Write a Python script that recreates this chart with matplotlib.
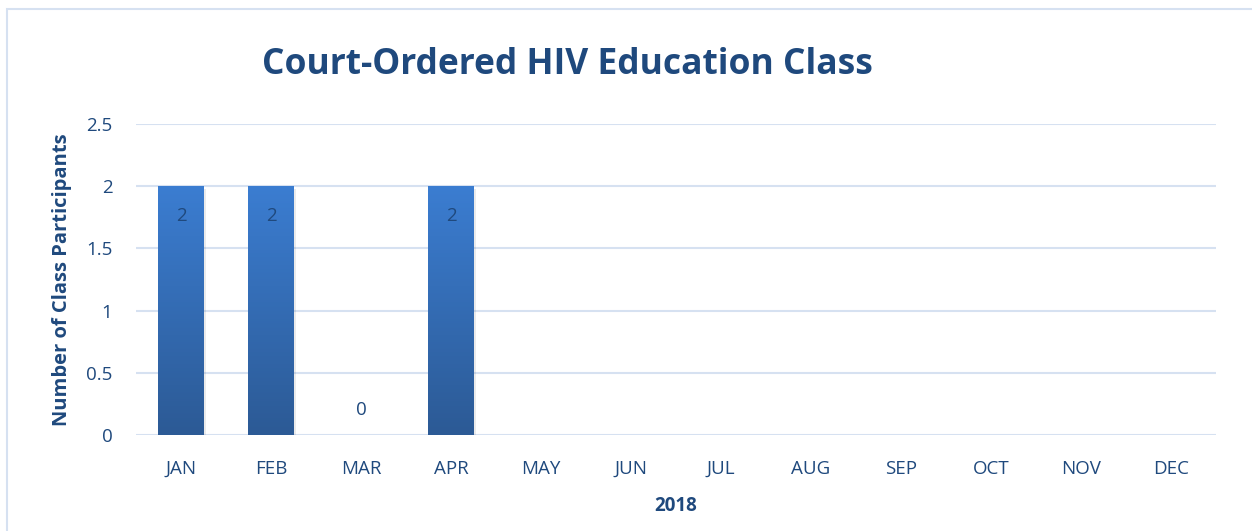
import matplotlib
matplotlib.use('Agg')
import matplotlib.pyplot as plt
import numpy as np
from matplotlib.patches import Rectangle

# datos del gráfico
meses = ['JAN', 'FEB', 'MAR', 'APR', 'MAY', 'JUN', 'JUL', 'AUG', 'SEP', 'OCT', 'NOV', 'DEC']
participantes = [2, 2, 0, 2]  # solo hay datos hasta abril
yticks = [0, 0.5, 1, 1.5, 2, 2.5]
ytick_labels = ['0', '0.5', '1', '1.5', '2', '2.5']

azul_texto = '#1f497d'
plt.rcParams['font.family'] = ['Open Sans', 'DejaVu Sans']

fig = plt.figure(figsize=(12.52, 5.31), dpi=100)
ax = fig.add_axes([0.1086, 0.1808, 0.8626, 0.5857])

# marco del gráfico
fig.patches.append(Rectangle((7 / 1252, -0.1), 1.2, 1 - 9 / 531 + 0.1, transform=fig.transFigure,
                             fill=False, edgecolor='#d6e1f1', linewidth=1.5))

x = np.arange(len(meses))
ancho = 0.51
grad = np.linspace(0, 1, 256).reshape(-1, 1)
cmap = matplotlib.colors.LinearSegmentedColormap.from_list('barra', ['#2c5a95', '#3b7dd1'])

for i, v in enumerate(participantes):
    if v > 0:
        # sombra ligera
        ax.add_patch(Rectangle((x[i] - ancho / 2 + 0.02, -0.02), ancho, v, color='#000000',
                               alpha=0.08, zorder=2, linewidth=0))
        ax.imshow(grad, cmap=cmap, aspect='auto', origin='lower',
                  extent=(x[i] - ancho / 2, x[i] + ancho / 2, 0, v), zorder=3)
        ax.text(x[i], v - 0.24, str(v), ha='center', va='center', fontsize=13.5, color=azul_texto, zorder=4)
    else:
        ax.text(x[i], v + 0.2, str(v), ha='center', va='center', fontsize=13.5, color=azul_texto, zorder=4)

ax.set_xlim(-0.5, len(meses) - 0.5)
ax.set_ylim(0, 2.5)
ax.set_xticks(x)
ax.set_xticklabels(meses, fontsize=13.5, color=azul_texto)
ax.set_yticks(yticks)
ax.set_yticklabels(ytick_labels, fontsize=13.5, color=azul_texto)
ax.tick_params(length=0)
ax.tick_params(axis='y', pad=17)
ax.tick_params(axis='x', pad=18)
ax.grid(axis='y', color='#d6e1f1', linewidth=1.5, zorder=0)
ax.set_axisbelow(True)
for s in ax.spines.values():
    s.set_visible(False)

ax.set_xlabel('2018', fontsize=13.5, fontweight='bold', color=azul_texto, labelpad=13)
ax.set_ylabel('Number of Class Participants', fontsize=14.5, fontweight='bold', color=azul_texto, labelpad=10)
fig.text(567 / 1252, 1 - 65 / 531, 'Court-Ordered HIV Education Class', ha='center', va='center',
         fontsize=25.5, fontweight='bold', color=azul_texto)

plt.savefig('out.png', dpi=100)
plt.close()
